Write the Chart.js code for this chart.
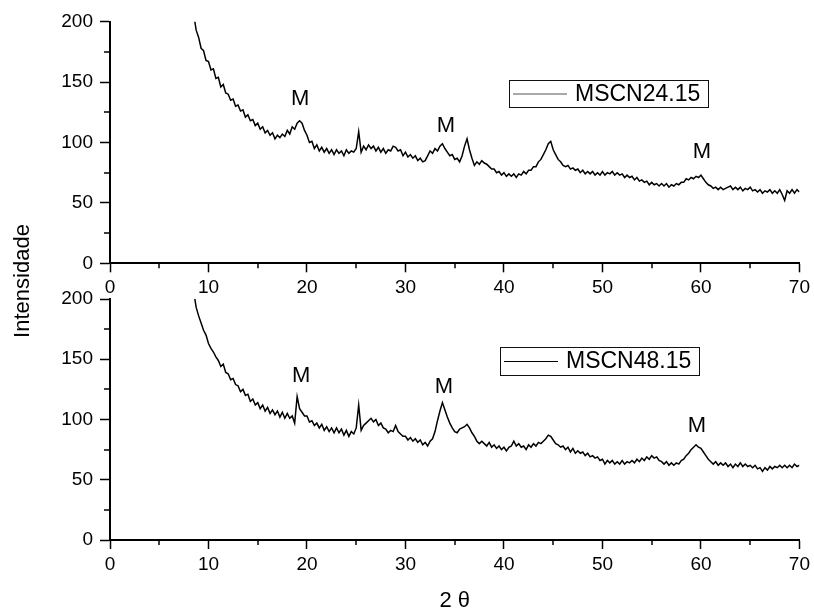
<!DOCTYPE html>
<html>
<head>
<meta charset="utf-8">
<script src="https://cdn.jsdelivr.net/npm/chart.js@4.4.1/dist/chart.umd.min.js"></script>
<style>
  html, body { margin: 0; padding: 0; background: #fff; }
  #wrap { position: relative; width: 814px; height: 614px; }
  #wrap canvas { position: absolute; left: 0; top: 0; }
</style>
</head>
<body>
<div id="wrap">
  <canvas id="topChart" width="814" height="614"></canvas>
  <canvas id="bottomChart" width="814" height="614"></canvas>
</div>
<script>
// 2-theta sampling (deg)
const twoTheta = [
  8.5, 8.75,
  9, 9.25, 9.5, 9.75, 10, 10.25, 10.5, 10.75,
  11, 11.25, 11.5, 11.75, 12, 12.25, 12.5, 12.75,
  13, 13.25, 13.5, 13.75, 14, 14.25, 14.5, 14.75,
  15, 15.25, 15.5, 15.75, 16, 16.25, 16.5, 16.75,
  17, 17.25, 17.5, 17.75, 18, 18.25, 18.5, 18.75,
  19, 19.25, 19.5, 19.75, 20, 20.25, 20.5, 20.75,
  21, 21.25, 21.5, 21.75, 22, 22.25, 22.5, 22.75,
  23, 23.25, 23.5, 23.75, 24, 24.25, 24.5, 24.75,
  25, 25.25, 25.5, 25.75, 26, 26.25, 26.5, 26.75,
  27, 27.25, 27.5, 27.75, 28, 28.25, 28.5, 28.75,
  29, 29.25, 29.5, 29.75, 30, 30.25, 30.5, 30.75,
  31, 31.25, 31.5, 31.75, 32, 32.25, 32.5, 32.75,
  33, 33.25, 33.5, 33.75, 34, 34.25, 34.5, 34.75,
  35, 35.25, 35.5, 35.75, 36, 36.25, 36.5, 36.75,
  37, 37.25, 37.5, 37.75, 38, 38.25, 38.5, 38.75,
  39, 39.25, 39.5, 39.75, 40, 40.25, 40.5, 40.75,
  41, 41.25, 41.5, 41.75, 42, 42.25, 42.5, 42.75,
  43, 43.25, 43.5, 43.75, 44, 44.25, 44.5, 44.75,
  45, 45.25, 45.5, 45.75, 46, 46.25, 46.5, 46.75,
  47, 47.25, 47.5, 47.75, 48, 48.25, 48.5, 48.75,
  49, 49.25, 49.5, 49.75, 50, 50.25, 50.5, 50.75,
  51, 51.25, 51.5, 51.75, 52, 52.25, 52.5, 52.75,
  53, 53.25, 53.5, 53.75, 54, 54.25, 54.5, 54.75,
  55, 55.25, 55.5, 55.75, 56, 56.25, 56.5, 56.75,
  57, 57.25, 57.5, 57.75, 58, 58.25, 58.5, 58.75,
  59, 59.25, 59.5, 59.75, 60, 60.25, 60.5, 60.75,
  61, 61.25, 61.5, 61.75, 62, 62.25, 62.5, 62.75,
  63, 63.25, 63.5, 63.75, 64, 64.25, 64.5, 64.75,
  65, 65.25, 65.5, 65.75, 66, 66.25, 66.5, 66.75,
  67, 67.25, 67.5, 67.75, 68, 68.25, 68.5, 68.75,
  69, 69.25, 69.5, 69.75,
  70
];

// MSCN24.15 intensity (top panel)
const mscn24 = [
  206, 193,
  187, 178, 176, 168, 167, 160, 161, 153,
  154, 146, 148, 141, 140, 135, 136, 130,
  131, 126, 127, 121, 123, 118, 119, 114,
  116, 111, 113, 108, 110, 106, 108, 103,
  106, 104, 107, 105, 110, 107, 113, 111,
  116, 118, 116, 110, 106, 100, 101, 95,
  98, 93, 96, 92, 95, 91, 94, 90,
  94, 91, 93, 89, 94, 91, 93, 92,
  95, 109, 92, 97, 94, 98, 95, 97,
  93, 96, 92, 95, 91, 94, 93, 97,
  96, 93, 94, 89, 92, 88, 90, 87,
  89, 85, 87, 84, 85, 89, 93, 91,
  95, 93, 97, 99, 95, 92, 89, 90,
  86, 87, 84, 89, 97, 103, 94, 87,
  81, 84, 82, 85, 83, 82, 80, 78,
  78, 75, 76, 73, 75, 72, 74, 72,
  74, 71, 74, 73, 76, 74, 77, 77,
  80, 80, 84, 86, 90, 94, 99, 101,
  94, 90, 86, 84, 81, 80, 81, 78,
  79, 77, 78, 75, 77, 74, 76, 74,
  76, 73, 75, 73, 76, 73, 75, 74,
  76, 73, 75, 73, 74, 71, 73, 71,
  72, 69, 71, 68, 69, 67, 68, 65,
  67, 65, 66, 64, 66, 64, 66, 63,
  65, 64, 66, 65, 67, 67, 70, 69,
  71, 70, 72, 71, 73, 70, 67, 65,
  64, 62, 63, 61, 63, 61, 62, 63,
  64, 61, 63, 61, 63, 60, 62, 61,
  63, 60, 61, 59, 61, 58, 60, 59,
  61, 58, 60, 58, 61, 57, 52, 60,
  58, 61, 58, 61,
  59
];

// MSCN48.15 intensity (bottom panel)
const mscn48 = [
  206, 193,
  186, 180, 174, 170, 163, 159, 156, 152,
  149, 144, 146, 139, 138, 133, 134, 129,
  128, 123, 125, 120, 121, 115, 117, 112,
  114, 109, 112, 107, 110, 105, 108, 104,
  107, 102, 106, 101, 105, 101, 103, 97,
  119, 109, 106, 103, 103, 98, 99, 95,
  97, 93, 96, 91, 94, 90, 93, 89,
  93, 89, 92, 87, 91, 86, 90, 88,
  93, 112, 91, 95, 97, 99, 101, 98,
  100, 95, 97, 93, 92, 89, 91, 90,
  95, 90, 88, 86, 86, 83, 85, 82,
  84, 81, 83, 79, 81, 78, 82, 84,
  90, 99, 107, 114, 108, 102, 97, 93,
  90, 89, 92, 93, 94, 96, 93, 89,
  86, 82, 80, 82, 80, 78, 81, 77,
  79, 76, 78, 75, 77, 74, 77, 78,
  82, 78, 80, 77, 78, 75, 79, 77,
  80, 78, 81, 80, 82, 84, 87, 86,
  83, 80, 79, 77, 78, 75, 77, 73,
  76, 72, 74, 72, 73, 70, 72, 69,
  70, 68, 69, 66, 67, 63, 66, 64,
  66, 63, 65, 63, 66, 63, 65, 64,
  66, 64, 67, 65, 68, 66, 69, 67,
  70, 68, 69, 66, 65, 63, 65, 62,
  64, 62, 64, 63, 66, 67, 70, 72,
  75, 77, 79, 77, 76, 73, 70, 67,
  65, 63, 65, 62, 64, 62, 64, 61,
  63, 60, 63, 61, 64, 61, 63, 61,
  62, 60, 62, 59, 60, 57, 60, 58,
  61, 59, 61, 60, 62, 60, 62, 60,
  62, 60, 63, 61,
  62
];

// axis ticks
const xTicks = [0, 10, 20, 30, 40, 50, 60, 70];
const xMinor = [5, 15, 25, 35, 45, 55, 65];
const yTicks = [0, 50, 100, 150, 200];
const yMinor = [25, 75, 125, 175];

// "M" peak markers (2theta, intensity where the letter sits)
const peakX24 = [19.3, 34.1, 60.1];
const peakY24 = [136, 114, 92];
const peakX48 = [19.4, 33.9, 59.6];
const peakY48 = [136, 127, 95];

const FONT = '"Liberation Sans", Arial, sans-serif';

const minorTicks = {
  id: 'minorTicks',
  afterDraw(chart) {
    const { ctx, chartArea, scales: { x, y } } = chart;
    ctx.save();
    ctx.strokeStyle = '#000';
    ctx.lineWidth = 1.5;
    ctx.beginPath();
    xMinor.forEach(v => {
      const px = Math.round(x.getPixelForValue(v));
      ctx.moveTo(px, chartArea.bottom);
      ctx.lineTo(px, chartArea.bottom + 5);
    });
    yMinor.forEach(v => {
      const py = Math.round(y.getPixelForValue(v));
      ctx.moveTo(chartArea.left, py);
      ctx.lineTo(chartArea.left - 6, py);
    });
    ctx.stroke();
    ctx.restore();
  }
};

const peakLabels = {
  id: 'peakLabels',
  afterDatasetsDraw(chart, args, opts) {
    const { ctx, scales: { x, y } } = chart;
    ctx.save();
    ctx.font = '22px ' + FONT;
    ctx.fillStyle = '#000';
    ctx.textAlign = 'center';
    ctx.textBaseline = 'middle';
    opts.xs.forEach((v, i) => {
      ctx.fillText('M', x.getPixelForValue(v), y.getPixelForValue(opts.ys[i]));
    });
    ctx.restore();
  }
};

const boxLegend = {
  id: 'boxLegend',
  afterDraw(chart, args, opts) {
    const ctx = chart.ctx;
    const label = chart.data.datasets[0].label;
    const midY = opts.top + opts.height / 2;
    ctx.save();
    ctx.strokeStyle = '#111';
    ctx.lineWidth = 1;
    ctx.strokeRect(opts.left + 0.5, opts.top + 0.5, opts.width, opts.height);
    ctx.strokeStyle = opts.lineColor;
    ctx.beginPath();
    ctx.moveTo(opts.left + 4, midY + 0.5);
    ctx.lineTo(opts.left + 58, midY + 0.5);
    ctx.stroke();
    ctx.font = '23px ' + FONT;
    ctx.fillStyle = '#000';
    ctx.textBaseline = 'middle';
    ctx.fillText(label, opts.left + 66, midY + 1);
    ctx.restore();
  }
};

const yTitle = {
  id: 'yTitle',
  afterDraw(chart) {
    const ctx = chart.ctx;
    ctx.save();
    ctx.translate(23, 281);
    ctx.rotate(-Math.PI / 2);
    ctx.font = '22px ' + FONT;
    ctx.fillStyle = '#000';
    ctx.textAlign = 'center';
    ctx.textBaseline = 'middle';
    ctx.fillText('Intensidade', 0, 0);
    ctx.restore();
  }
};

function makePanel(canvasId, values, label, cfg) {
  const ctx = document.getElementById(canvasId).getContext('2d');
  return new Chart(ctx, {
    type: 'line',
    data: {
      datasets: [{
        label: label,
        data: twoTheta.map((t, i) => ({ x: t, y: values[i] })),
        borderColor: '#000',
        borderWidth: 1.5,
        pointRadius: 0,
        tension: 0,
        fill: false
      }]
    },
    options: {
      responsive: false,
      animation: false,
      layout: { padding: { top: cfg.padTop, right: 13, bottom: 0, left: 0 } },
      plugins: {
        legend: { display: false },
        tooltip: { enabled: false },
        peakLabels: { xs: cfg.peakX, ys: cfg.peakY },
        boxLegend: cfg.legend
      },
      scales: {
        x: {
          type: 'linear',
          min: 0,
          max: 70,
          afterBuildTicks: scale => { scale.ticks = xTicks.map(v => ({ value: v })); },
          afterFit: scale => { scale.height = cfg.xHeight; },
          ticks: { color: '#000', font: { family: FONT, size: 19 }, padding: 4, maxRotation: 0 },
          grid: { display: true, drawOnChartArea: false, drawTicks: true, tickLength: 9, tickColor: '#000', tickWidth: 1.5 },
          border: { display: true, color: '#000', width: 2 },
          title: {
            display: cfg.showXTitle,
            text: '2 θ',
            color: '#000',
            font: { family: FONT, size: 22 },
            padding: { top: 0, bottom: 0 }
          }
        },
        y: {
          min: 0,
          max: 200,
          afterBuildTicks: scale => { scale.ticks = yTicks.map(v => ({ value: v })); },
          afterFit: scale => { scale.width = 110; },
          ticks: { color: '#000', font: { family: FONT, size: 19 }, padding: 7 },
          grid: { display: true, drawOnChartArea: false, drawTicks: true, tickLength: 10, tickColor: '#000', tickWidth: 1.5 },
          border: { display: true, color: '#000', width: 2 }
        }
      }
    },
    plugins: cfg.extra.concat([minorTicks, peakLabels, boxLegend])
  });
}

makePanel('topChart', mscn24, 'MSCN24.15', {
  padTop: 21.7,
  xHeight: 350.7,
  showXTitle: false,
  peakX: peakX24,
  peakY: peakY24,
  legend: { left: 509, top: 80, width: 199, height: 27, lineColor: '#555' },
  extra: [yTitle]
});

makePanel('bottomChart', mscn48, 'MSCN48.15', {
  padTop: 299,
  xHeight: 74,
  showXTitle: true,
  peakX: peakX48,
  peakY: peakY48,
  legend: { left: 500, top: 347, width: 199, height: 28, lineColor: '#000' },
  extra: []
});
</script>
</body>
</html>
